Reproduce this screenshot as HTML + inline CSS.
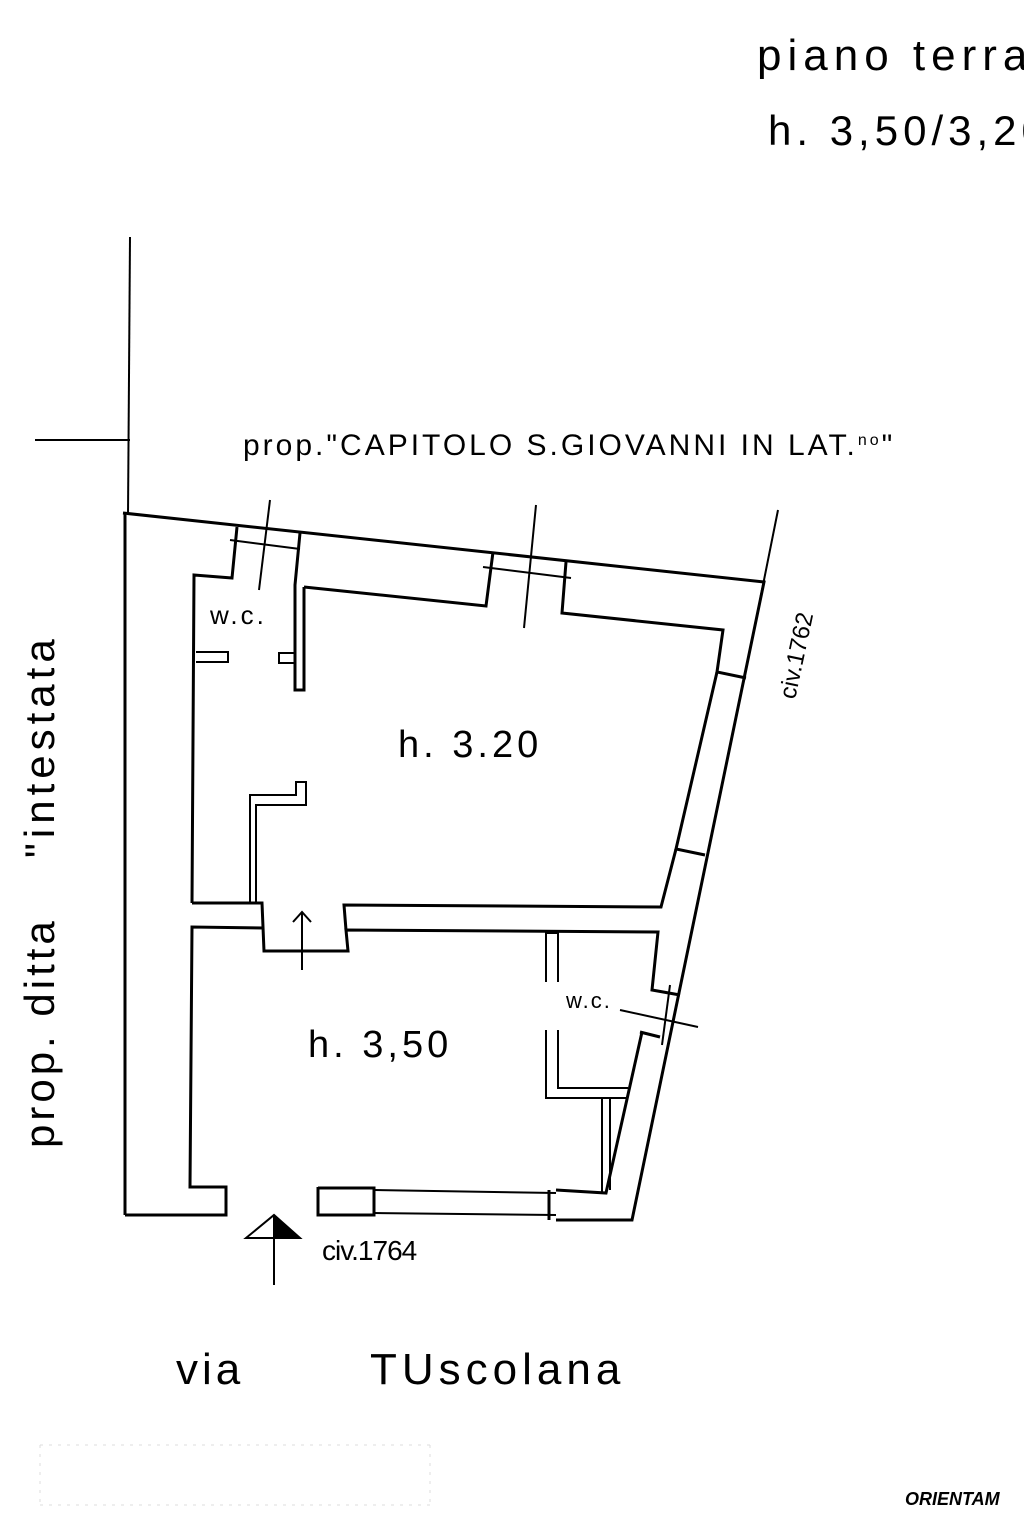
<!DOCTYPE html>
<html><head><meta charset="utf-8"><style>
html,body{margin:0;padding:0;background:#fff;}
svg{display:block}
text{font-family:"Liberation Sans",sans-serif;fill:#000}
</style></head><body>
<svg width="1024" height="1536" viewBox="0 0 1024 1536" xmlns="http://www.w3.org/2000/svg">
<g fill="none" stroke="#000" stroke-width="3" stroke-linejoin="miter">
<line x1="130" y1="237" x2="128" y2="515" stroke-width="2"/>
<line x1="35" y1="440" x2="130" y2="440" stroke-width="2"/>
<line x1="778" y1="510" x2="760" y2="600" stroke-width="2"/>
<polyline points="123,513 764,582 632,1220 556,1220"/>
<line x1="125" y1="513" x2="125" y2="1215"/>
<polyline points="125,1215 226,1215 226,1187 190,1187 192,927 264,928"/>
<polyline points="192,903 194,575 232,578 237,527"/>
<line x1="230" y1="540" x2="300" y2="549" stroke-width="2"/>
<line x1="270" y1="500" x2="259" y2="590" stroke-width="2"/>
<polyline points="300,533 295,585 295,690 304,690 304,587"/>
<polyline points="295,653 279,653 279,663 295,663" stroke-width="2"/>
<polyline points="196,652 228,652 228,662 196,662" stroke-width="2"/>
<polyline points="304,587 486,606 493,552"/>
<line x1="483" y1="567" x2="571" y2="578" stroke-width="2"/>
<line x1="536" y1="505" x2="524" y2="628" stroke-width="2"/>
<polyline points="566,562 562,613 723,630 717,672 746,678"/>
<polyline points="717,672 676,849 705,855"/>
<polyline points="676,849 661,907 344,905 346,930"/>
<polyline points="192,903 262,903 264,951 348,951 346,930 658,932 652,990 680,995"/>
<polyline points="250,903 250,795 296,795 296,782 306,782 306,805 256,805 256,903" stroke-width="2"/>
<line x1="302" y1="970" x2="302" y2="912" stroke-width="2"/>
<polyline points="293,922 302,912 311,922" stroke-width="2"/>
<polyline points="546,982 546,933 558,933 558,982" stroke-width="2"/>
<polyline points="546,1030 546,1098 626,1098" stroke-width="2"/>
<polyline points="558,1030 558,1088 628,1088" stroke-width="2"/>
<line x1="640" y1="1032" x2="660" y2="1037"/>
<line x1="620" y1="1010" x2="698" y2="1027" stroke-width="2"/>
<line x1="670" y1="985" x2="662" y2="1045" stroke-width="2"/>
<polyline points="642,1032 606,1193 556,1190"/>
<line x1="602" y1="1098" x2="602" y2="1193" stroke-width="2"/>
<line x1="610" y1="1098" x2="610" y2="1190" stroke-width="2"/>
<polyline points="318,1187 318,1215 374,1215 374,1188 318,1188"/>
<line x1="374" y1="1190" x2="556" y2="1193" stroke-width="2"/>
<line x1="374" y1="1213" x2="556" y2="1215" stroke-width="2"/>
<line x1="549" y1="1190" x2="549" y2="1220"/>
<line x1="274" y1="1215" x2="274" y2="1285" stroke-width="2"/>
<polygon points="246,1238 274,1215 300,1238" stroke-width="2"/>
</g>
<polygon points="274,1215 300,1238 274,1238" fill="#000"/>
<text x="757" y="70" font-size="44" letter-spacing="6">piano terra</text>
<text x="768" y="145" font-size="42" letter-spacing="5">h. 3,50/3,20</text>
<text x="243" y="455" font-size="30" letter-spacing="3">prop."CAPITOLO S.GIOVANNI IN LAT.<tspan font-size="16" dy="-10">no</tspan><tspan dy="10">"</tspan></text>
<text x="210" y="624" font-size="26" letter-spacing="3">w.c.</text>
<text x="398" y="757" font-size="38" letter-spacing="4">h. 3.20</text>
<text x="308" y="1057" font-size="38" letter-spacing="4">h. 3,50</text>
<text x="566" y="1008" font-size="22" letter-spacing="2">w.c.</text>
<text x="322" y="1260" font-size="28" letter-spacing="-1">civ.1764</text>
<text transform="translate(795,700) rotate(-78)" font-size="24">civ.1762</text>
<text transform="translate(54,1148) rotate(-90)" font-size="42" letter-spacing="4">prop. ditta</text>
<text transform="translate(54,858) rotate(-90)" font-size="42" letter-spacing="5">"intestata</text>
<text x="176" y="1384" font-size="44" letter-spacing="4">via</text>
<text x="370" y="1384" font-size="44" letter-spacing="5">TUscolana</text>
<text x="905" y="1505" font-size="18" font-weight="bold" font-style="italic">ORIENTAM</text>
<g stroke="#ddd" stroke-width="1" stroke-dasharray="3,6">
<line x1="40" y1="1445" x2="430" y2="1445"/>
<line x1="40" y1="1505" x2="430" y2="1505"/>
<line x1="430" y1="1445" x2="430" y2="1505"/>
<line x1="40" y1="1445" x2="40" y2="1505"/>
</g>
</svg>
</body></html>
